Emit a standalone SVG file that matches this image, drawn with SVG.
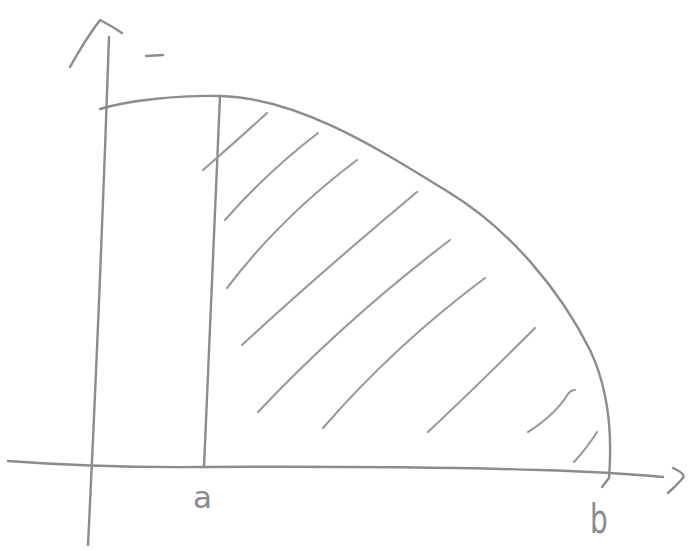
<svg xmlns="http://www.w3.org/2000/svg" width="692" height="550" viewBox="0 0 692 550">
<style>
.s{fill:none;stroke:#8c8c8c;stroke-width:2.4;stroke-linecap:round;stroke-linejoin:round}
.h{fill:none;stroke:#999;stroke-width:2.1;stroke-linecap:round}
.t{font-family:"DejaVu Sans",sans-serif;fill:#8a8a8a}
</style>
<rect width="692" height="550" fill="#fff"/>
<g id="axes">
<path class="s" d="M109,37 Q100,300 88,545"/>
<path class="s" d="M70,67 Q85,40 100,20 Q112,26 122,33"/>
<path class="s" d="M8,461 Q100,468 204,467 Q400,466 540,470 Q610,472 663,477"/>
<path class="s" d="M673,468 Q686,474 683,478 Q676,486 668,493"/>
<path class="s" d="M146,56 L163,55"/>
</g>
<g id="region">
<path class="s" d="M100,109 C130,100 180,95 220,96 C300,98 380,150 450,193 C510,230 560,290 590,350 C610,392 612,440 609,478"/>
<path class="s" d="M609,478 L602,487"/>
<path class="s" d="M220,96 Q212,280 204,467"/>
</g>
<g id="hatch">
<path class="h" d="M203,170 Q233,144 267,113"/>
<path class="h" d="M225,220 Q266,173 318,133"/>
<path class="h" d="M227,288 Q280,218 357,160"/>
<path class="h" d="M242,345 Q320,273 417,192"/>
<path class="h" d="M258,412 Q345,320 450,240"/>
<path class="h" d="M323,428 Q395,345 485,278"/>
<path class="h" d="M428,432 Q478,385 535,328"/>
<path class="h" d="M528,432 Q555,415 568,394 Q571,390 575,390"/>
<path class="h" d="M574,462 Q587,448 597,432"/>
</g>
<g id="labels">
<text class="t" x="193" y="508" font-size="31">a</text>
<text class="t" x="0" y="0" font-size="28" transform="translate(590,533) scale(1,1.45)">b</text>
</g>
</svg>
